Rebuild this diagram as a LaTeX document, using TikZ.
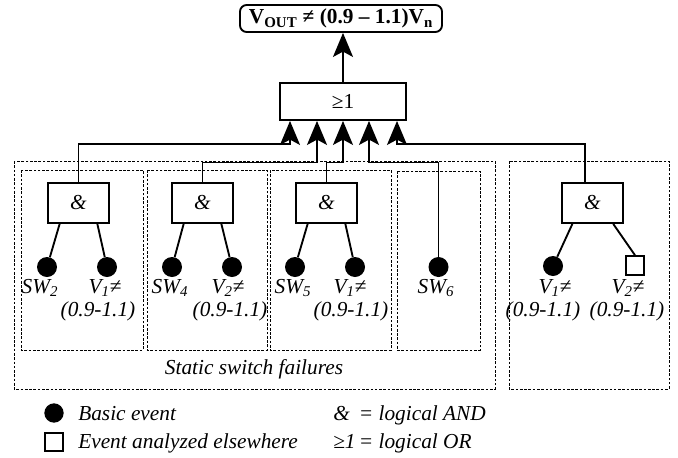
\documentclass[tikz,border=0pt]{standalone}
\usepackage{fontspec}
\setmainfont{Liberation Serif}
\usetikzlibrary{arrows.meta,calc}
\begin{document}
\begin{tikzpicture}[x=0.75pt,y=-0.75pt,
  every node/.style={font=\fontsize{16}{18}\selectfont},
  lw/.style={line width=1.4pt},
  gate/.style={draw,line width=1.4pt,minimum width=45.75pt,minimum height=30pt,inner sep=0pt,font=\fontsize{16}{18}\selectfont\itshape},
  ev/.style={circle,fill=black,minimum size=15pt,inner sep=0pt},
  sq/.style={draw,line width=1.4pt,minimum size=14pt,inner sep=0pt},
  lab/.style={anchor=base,inner sep=0pt,font=\fontsize{16}{18}\selectfont\itshape},
  dbox/.style={draw,line width=0.7pt,dash pattern=on 2pt off 1.2pt},
  arr/.style={line width=1.4pt,-{Stealth[length=18pt 0 0,width=15pt 0 0,inset=4pt 0]}},
  link/.style={line width=1.4pt}]
\useasboundingbox (0,0) rectangle (678,457);

% dashed groups
\draw[dbox] (14,161) rectangle (495,389);
\draw[dbox] (21,170) rectangle (143,350);
\draw[dbox] (147,170) rectangle (267,350);
\draw[dbox] (270,170) rectangle (391,350);
\draw[dbox] (397,171) rectangle (480,350);
\draw[dbox] (509,161) rectangle (669,389);

% top event and OR gate
\node[draw,lw,rounded corners=5pt,minimum width=151.5pt,minimum height=20.25pt,inner sep=0pt,
  font=\fontsize{16}{18}\selectfont\bfseries] (top) at (341,18.5)
  {V\textsubscript{OUT} ≠ (0.9 – 1.1)V\textsubscript{n}};
\node[draw,lw,minimum width=94.5pt,minimum height=27.75pt,inner sep=0pt] (or) at (343,101.5) {≥1};

% AND gates
\node[gate] (g1) at (78.5,203) {\&};
\node[gate] (g2) at (202.5,203) {\&};
\node[gate] (g3) at (326.5,203) {\&};
\node[gate] (g4) at (592.5,203) {\&};

% events
\node[ev] (c1) at (47,267) {};
\node[ev] (c2) at (107,267) {};
\node[ev] (c3) at (172,267) {};
\node[ev] (c4) at (232,267) {};
\node[ev] (c5) at (295,267) {};
\node[ev] (c6) at (355,267) {};
\node[ev] (c7) at (438.5,267) {};
\node[ev] (c8) at (553,266) {};
\node[sq] (s1) at (635,265.5) {};

% labels
\node[lab] (l1) at (40,293) {SW\textsubscript{2}};
\node[lab] (l2) at (105,293) {V\textsubscript{1}≠};
\node[lab] (l2b) at (98,316) {(0.9-1.1)};
\node[lab] (l3) at (170,293) {SW\textsubscript{4}};
\node[lab] (l4) at (228,293) {V\textsubscript{2}≠};
\node[lab] (l4b) at (230,316) {(0.9-1.1)};
\node[lab] (l5) at (293,293) {SW\textsubscript{5}};
\node[lab] (l6) at (350,293) {V\textsubscript{1}≠};
\node[lab] (l6b) at (351,316) {(0.9-1.1)};
\node[lab] (l7) at (436,293) {SW\textsubscript{6}};
\node[lab] (l8) at (555,293) {V\textsubscript{1}≠};
\node[lab] (l8b) at (543,316) {(0.9-1.1)};
\node[lab] (l9) at (628,293) {V\textsubscript{2}≠};
\node[lab] (l9b) at (627,316) {(0.9-1.1)};
\node[lab] (ssf) at (254,374) {Static switch failures};

% routing helpers
\coordinate (x1) at (290,0);
\coordinate (x2) at (317,0);
\coordinate (x3) at (343,0);
\coordinate (x4) at (369,0);
\coordinate (x5) at (397,0);
\coordinate (x6) at (585,0);
\coordinate (h1) at (0,144);
\coordinate (h2) at (0,162.5);

% connectors to OR gate
\draw[arr] (g1.north) |- (x1 |- h1) -- (or.south -| x1);
\draw[arr] (g2.north) |- (x2 |- h2) -- (or.south -| x2);
\draw[arr] (g3.north) |- (x3 |- h2) -- (or.south -| x3);
\draw[arr] (c7.north) |- (x4 |- h2) -- (or.south -| x4);
\draw[arr] (g4.north -| x6) |- (x5 |- h1) -- (or.south -| x5);
\draw[arr] (or.north) -- (or.north |- top.south);

% gate children
\draw[link] ($(g1.south west)!0.2!(g1.south east)$) -- (c1);
\draw[link] ($(g1.south west)!0.8!(g1.south east)$) -- (c2);
\draw[link] ($(g2.south west)!0.2!(g2.south east)$) -- (c3);
\draw[link] ($(g2.south west)!0.8!(g2.south east)$) -- (c4);
\draw[link] ($(g3.south west)!0.2!(g3.south east)$) -- (c5);
\draw[link] ($(g3.south west)!0.8!(g3.south east)$) -- (c6);
\draw[link] ($(g4.south west)!0.18!(g4.south east)$) -- (c8);
\draw[link] ($(g4.south west)!0.83!(g4.south east)$) -- (s1.north);

% legend
\node[ev,minimum size=14.5pt] (lc) at (54,413) {};
\node[sq] (ls) at (54,442) {};
\node[anchor=base west,inner sep=0pt,font=\fontsize{16}{18}\selectfont\itshape] (lt1) at (78,420) {Basic event};
\node[anchor=base west,inner sep=0pt,font=\fontsize{16}{18}\selectfont\itshape] (lt2) at (78,448) {Event analyzed elsewhere};
\node[anchor=base west,inner sep=0pt,font=\fontsize{16}{18}\selectfont\itshape] (lt3) at (333,420) {\makebox[1.2em][l]{\&}= logical AND};
\node[anchor=base west,inner sep=0pt,font=\fontsize{16}{18}\selectfont\itshape] (lt4) at (333,448) {\makebox[1.2em][l]{≥1}= logical OR};
\end{tikzpicture}
\end{document}
